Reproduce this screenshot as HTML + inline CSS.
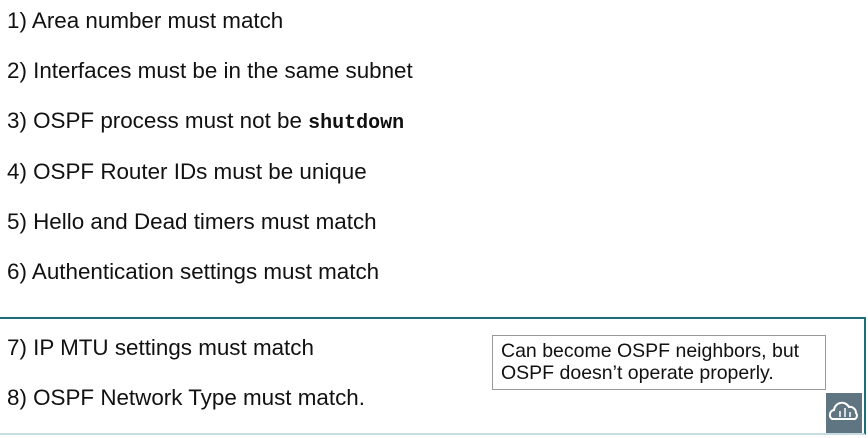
<!DOCTYPE html>
<html><head><meta charset="utf-8"><style>
body{margin:0;width:868px;height:435px;background:#fff;position:relative;overflow:hidden;font-family:"Liberation Sans",sans-serif;color:#111}
.t{position:absolute;left:7px;font-size:22.4px;white-space:nowrap;line-height:24px}
.b{font-family:"Liberation Mono",monospace;font-weight:bold;font-size:20px}
</style></head><body>
<div class="t" style="top:9px">1) Area number must match</div>
<div class="t" style="top:59px">2) Interfaces must be in the same subnet</div>
<div class="t" style="top:109px">3) OSPF process must not be <span class="b">shutdown</span></div>
<div class="t" style="top:160px">4) OSPF Router IDs must be unique</div>
<div class="t" style="top:210px">5) Hello and Dead timers must match</div>
<div class="t" style="top:260px">6) Authentication settings must match</div>
<div style="position:absolute;left:0;top:317px;width:864px;height:114px;border-top:2px solid #1b6f78;border-right:2px solid #1b6f78;border-bottom:2px solid #c7dde3"></div>
<div class="t" style="top:336px">7) IP MTU settings must match</div>
<div class="t" style="top:386px">8) OSPF Network Type must match.</div>
<div style="position:absolute;left:492px;top:335px;border:1px solid #999;background:#fff;font-size:19.5px;line-height:22px;padding:4px 0 0 8px;box-sizing:border-box;width:334px;height:55px;white-space:nowrap">Can become OSPF neighbors, but<br>OSPF doesn’t operate properly.</div>
<div style="position:absolute;left:826px;top:393px;width:36px;height:40px;background:#5f7682">
<svg width="36" height="40" viewBox="0 0 36 40"><path d="M6 26 a5 5 0 0 1 2-9 a8 8 0 0 1 15-3 a6 6 0 0 1 7 6 a4 4 0 0 1-1 6 z" fill="none" stroke="#fff" stroke-width="2"/><path d="M14 18v6M19 15v9M24 19v5" stroke="#fff" stroke-width="1.5"/></svg></div>
</body></html>
